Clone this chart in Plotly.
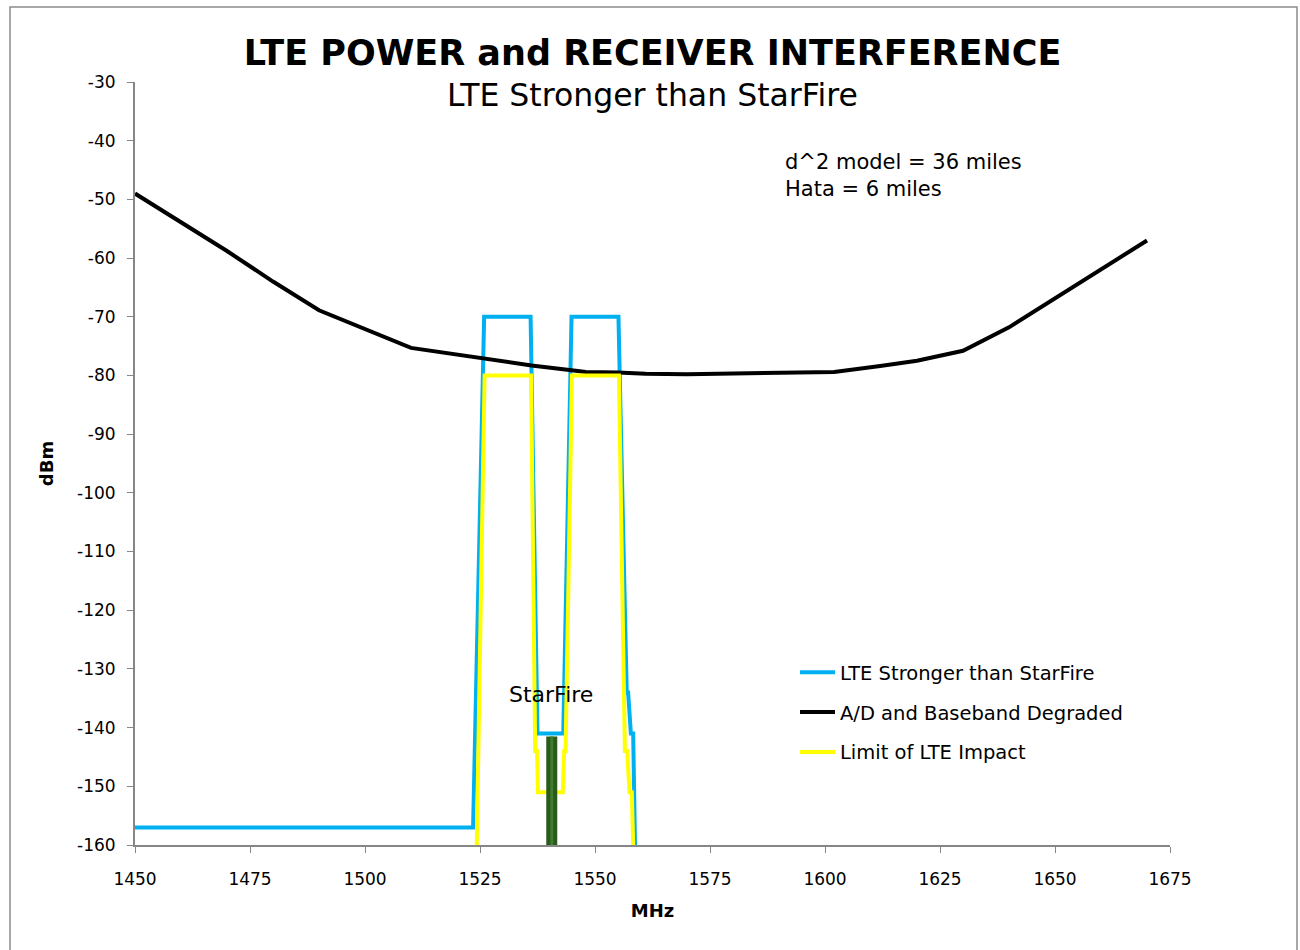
import plotly.graph_objects as go

# ---------------- data ----------------
freq_lte = [1450, 1523.5, 1525.9, 1536.0, 1537.5, 1543.1, 1544.9, 1555.1, 1556.9, 1557.2, 1557.8, 1558.3, 1558.7]
lte_dbm = [-157, -157, -70, -70, -141, -141, -70, -70, -134, -134, -141, -141, -160]

freq_ad = [1450, 1470, 1480, 1490, 1510, 1521.7, 1529, 1536.2, 1544.9, 1548, 1555, 1561, 1570, 1580, 1590, 1600,
           1602, 1612, 1620, 1630, 1640, 1670]
ad_dbm = [-49, -58.8, -64, -68.9, -75.3, -76.7, -77.5, -78.3, -79.1, -79.4, -79.5, -79.7, -79.8, -79.7, -79.6, -79.5,
          -79.4, -78.4, -77.5, -75.8, -71.8, -57]

freq_limit = [1524.3, 1526.0, 1536.1, 1537.0, 1537.4, 1537.6, 1543.0, 1543.3, 1543.6, 1545.0, 1555.2, 1556.5,
              1557.0, 1557.5, 1558.0, 1558.3]
limit_dbm = [-160, -80, -80, -144, -144, -151, -151, -144, -144, -80, -80, -144, -144, -151, -151, -160]

starfire_freq = [1540.6, 1540.6]
starfire_dbm = [-141.5, -160]

series_names = ["LTE Stronger than StarFire", "A/D and Baseband Degraded", "Limit of LTE Impact"]
x_ticks = [1450, 1475, 1500, 1525, 1550, 1575, 1600, 1625, 1650, 1675]
y_ticks = [-30, -40, -50, -60, -70, -80, -90, -100, -110, -120, -130, -140, -150, -160]

FONT = "DejaVu Sans"

fig = go.Figure()
fig.add_trace(go.Scatter(x=freq_lte, y=lte_dbm, mode="lines", name=series_names[0],
                         line=dict(color="#00B0F0", width=4), legendgroup="a"))
fig.add_trace(go.Scatter(x=freq_ad, y=ad_dbm, mode="lines", name=series_names[1],
                         line=dict(color="#000000", width=4), legendgroup="b"))
fig.add_trace(go.Scatter(x=freq_limit, y=limit_dbm, mode="lines", name=series_names[2],
                         line=dict(color="#FFFF00", width=4), legendgroup="c"))
fig.add_trace(go.Scatter(x=starfire_freq, y=starfire_dbm, mode="lines", showlegend=False,
                         line=dict(color="#2A5A1C", width=11), hoverinfo="skip"))
fig.add_trace(go.Scatter(x=starfire_freq, y=starfire_dbm, mode="lines", showlegend=False,
                         line=dict(color="#3E7C2E", width=3), hoverinfo="skip"))

fig.update_layout(
    width=1300, height=950,
    paper_bgcolor="white", plot_bgcolor="white",
    margin=dict(l=135, r=130, t=82, b=105, autoexpand=False),
    font=dict(family=FONT, size=17, color="#000000"),
    title=dict(text="<b>LTE POWER and RECEIVER INTERFERENCE</b>", x=0.502, xanchor="center",
               y=1 - 53 / 950, yanchor="middle", yref="container",
               font=dict(family=FONT, size=35, color="#000000")),
    showlegend=True,
    legend=dict(x=(795 - 135) / 1035, y=(845 - 653) / 763, xanchor="left", yanchor="top",
                font=dict(family=FONT, size=19.5, color="#000000"), bgcolor="rgba(0,0,0,0)",
                tracegroupgap=11.5, traceorder="grouped", itemwidth=35),
    xaxis=dict(range=[1450, 1675], tickvals=x_ticks, ticktext=[str(v) for v in x_ticks],
               showgrid=False, zeroline=False,
               showline=True, linecolor="#868686", linewidth=2, ticks="outside", ticklen=6,
               tickcolor="#868686", tickwidth=1, ticklabelstandoff=12,
               tickfont=dict(family=FONT, size=17),
               title=dict(text="<b>MHz</b>", font=dict(family=FONT, size=18), standoff=16)),
    yaxis=dict(range=[-160, -30], tickvals=y_ticks, ticktext=[str(v) for v in y_ticks],
               showgrid=False, zeroline=False,
               showline=True, linecolor="#868686", linewidth=2, ticks="outside", ticklen=6,
               tickcolor="#868686", tickwidth=1, ticklabelstandoff=8,
               tickfont=dict(family=FONT, size=17),
               title=dict(text="<b>dBm</b>", font=dict(family=FONT, size=18), standoff=19)),
)

fig.add_annotation(text="LTE Stronger than StarFire", xref="paper", yref="paper",
                   x=(652 - 135) / 1035, y=(845 - 95) / 763, xanchor="center", yanchor="middle",
                   showarrow=False, font=dict(family=FONT, size=31.5, color="#000000"))
fig.add_annotation(text="d^2 model = 36 miles<br>Hata = 6 miles", xref="paper", yref="paper",
                   x=(783 - 135) / 1035, y=(845 - 148) / 763, xanchor="left", yanchor="top",
                   align="left", showarrow=False, font=dict(family=FONT, size=21, color="#000000"))
fig.add_annotation(text="StarFire", x=1540.5, y=-134.4, xref="x", yref="y", showarrow=False,
                   xanchor="center", yanchor="middle", font=dict(family=FONT, size=22, color="#000000"))

# outer chart-area border
fig.add_shape(type="rect", xref="paper", yref="paper",
              x0=(10 - 135) / 1035, x1=(1297 - 135) / 1035,
              y0=(845 - 980) / 763, y1=(845 - 7) / 763,
              line=dict(color="#8C8C8C", width=1.5), fillcolor="rgba(0,0,0,0)", layer="below")

fig.write_html("out.html", config={"displayModeBar": False},
               post_script="document.body.style.margin='0';")
